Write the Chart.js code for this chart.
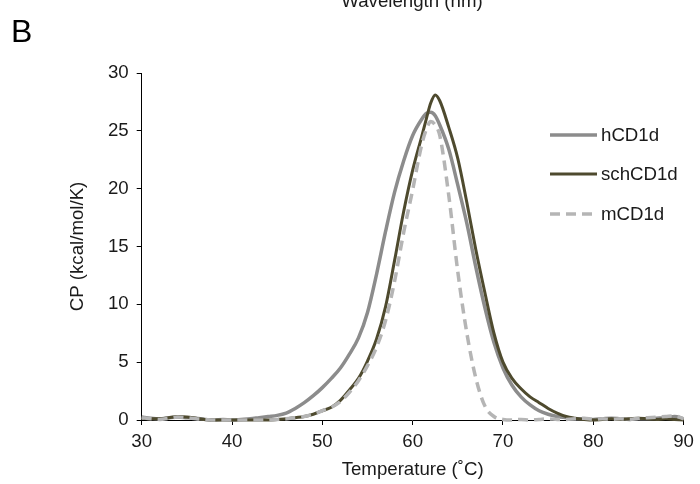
<!DOCTYPE html>
<html>
<head>
<meta charset="utf-8">
<script src="https://cdn.jsdelivr.net/npm/chart.js@4/dist/chart.umd.min.js"></script>
<style>
html,body{margin:0;padding:0;background:#fff;}
#wrap{width:700px;height:484px;position:relative;}
canvas{display:block;}
</style>
</head>
<body>
<div id="wrap"><canvas id="c" width="700" height="484"></canvas></div>
<script>
// ---- data ----
const temps = [30,31,32,33,34,35,36,37,38,39,40,41,42,43,44,45,46,47,48,49,50,51,52,53,54,55,56,57,58,59,60,61,61.5,62,62.5,63,64,65,66,67,68,69,70,71,72,73,74,75,76,77,78,79,80,81,82,83,84,85,86,87,88,89,90];
const hCD1d = [0.25,0.15,0.1,0.2,0.25,0.2,0.15,0.05,0.0,0.05,0.0,0.05,0.1,0.2,0.3,0.4,0.6,1.0,1.5,2.1,2.8,3.6,4.5,5.7,7.1,9.3,12.6,16.3,19.7,22.4,24.6,26.0,26.5,26.6,26.3,25.5,23.4,20.3,17.0,13.2,9.7,6.7,4.5,3.0,2.0,1.3,0.8,0.5,0.3,0.2,0.1,0.1,0.05,0.1,0.15,0.1,0.05,0.1,0.1,0.15,0.2,0.3,0.1];
const schCD1d = [0.15,0.1,0.1,0.2,0.3,0.25,0.15,0.05,0.0,0.0,0.0,0.0,0.0,0.0,0.0,0.05,0.1,0.2,0.3,0.5,0.8,1.1,1.7,2.6,3.6,5.1,7.0,9.8,13.8,18.0,21.6,24.5,26.0,27.4,28.1,27.6,25.3,22.6,18.8,14.7,11.0,7.5,5.0,3.6,2.7,2.0,1.5,1.0,0.6,0.3,0.15,0.05,0.0,0.05,0.1,0.05,0.1,0.15,0.1,0.05,0.1,0.05,0.0];
const mCD1d = [0.2,0.1,0.05,0.15,0.25,0.2,0.1,0.05,0.0,0.0,0.0,0.0,0.0,0.0,0.0,0.05,0.1,0.2,0.3,0.5,0.8,1.1,1.6,2.4,3.4,4.7,6.3,8.6,12.0,16.2,19.9,23.8,25.1,25.8,25.5,24.6,19.4,12.8,7.5,3.6,1.2,0.3,0.05,0.0,0.05,0.0,0.05,0.1,0.05,0.05,0.1,0.15,0.05,0.1,0.05,0.1,0.05,0.15,0.2,0.25,0.3,0.35,0.1];
const seriesNames = ['hCD1d','schCD1d','mCD1d'];
const xTicks = [30,40,50,60,70,80,90];
const yTicks = [0,5,10,15,20,25,30];
const xTitle = 'Temperature (\u02DAC)';
const yTitle = 'CP (kcal/mol/K)';
const panelLabel = 'B';
const topCutText = 'Wavelength (nm)';

const FONT = '"Liberation Sans", Arial, Helvetica, sans-serif';
const FS = 18.67;
const toXY = vals => temps.map((t,i)=>({x:t,y:vals[i]}));

const styles = [
  {color:'#8c8c8c', width:3.5, dash:[], order:2},
  {color:'#4e4a2e', width:3, dash:[], order:1},
  {color:'#b5b5b5', width:3.5, dash:[10,6], order:0}
];
const seriesVals = [hCD1d, schCD1d, mCD1d];

const datasets = seriesNames.map((n,i)=>({
  label:n,
  data:toXY(seriesVals[i]),
  borderColor:styles[i].color,
  borderWidth:styles[i].width,
  borderDash:styles[i].dash,
  pointRadius:0,
  fill:false,
  tension:0.4,
  cubicInterpolationMode:'monotone',
  clip:false,
  order:styles[i].order
}));

const extras = {
  id:'extras',
  afterDraw(chart){
    const ctx = chart.ctx;
    ctx.save();
    // panel label
    ctx.fillStyle = '#000';
    ctx.font = '32px ' + FONT;
    ctx.textBaseline = 'alphabetic';
    ctx.textAlign = 'left';
    ctx.fillText(panelLabel, 11, 42);
    // cut text from previous panel
    ctx.font = FS + 'px ' + FONT;
    ctx.textAlign = 'center';
    ctx.fillStyle = '#1a1a1a';
    ctx.fillText(topCutText, 412, 7);
    // legend
    const lx0 = 550, lx1 = 597, tx = 601;
    const ys = [135, 174, 214];
    chart.data.datasets.forEach((d,i)=>{
      ctx.beginPath();
      ctx.strokeStyle = d.borderColor;
      ctx.lineWidth = d.borderWidth;
      ctx.setLineDash(d.borderDash || []);
      ctx.moveTo(lx0, ys[i]);
      ctx.lineTo(lx1, ys[i]);
      ctx.stroke();
      ctx.setLineDash([]);
      ctx.fillStyle = '#1a1a1a';
      ctx.font = FS + 'px ' + FONT;
      ctx.textAlign = 'left';
      ctx.textBaseline = 'middle';
      ctx.fillText(d.label, tx, ys[i]+1);
    });
    ctx.restore();
  }
};

new Chart(document.getElementById('c'), {
  type:'line',
  data:{datasets},
  options:{
    responsive:false,
    animation:false,
    devicePixelRatio:1,
    layout:{padding:{left:0,top:73,right:12.5,bottom:0}},
    plugins:{legend:{display:false},tooltip:{enabled:false}},
    scales:{
      x:{
        type:'linear',
        min:30,max:90,
        afterBuildTicks: s => { s.ticks = xTicks.map(v=>({value:v})); },
        afterFit: s => { s.height = 64; },
        grid:{display:true,drawOnChartArea:false,drawTicks:true,tickLength:5,color:'#000',lineWidth:1},
        border:{display:true,color:'#000',width:1},
        ticks:{color:'#1a1a1a',font:{family:FONT,size:FS},padding:6,maxRotation:0},
        title:{display:true,text:xTitle,color:'#1a1a1a',font:{family:FONT,size:FS},padding:{top:0,bottom:3.3}}
      },
      y:{
        type:'linear',
        min:0,max:30,
        afterBuildTicks: s => { s.ticks = yTicks.map(v=>({value:v})); },
        afterFit: s => { s.width = 141.7; },
        grid:{display:true,drawOnChartArea:false,drawTicks:true,tickLength:5,color:'#000',lineWidth:1},
        border:{display:true,color:'#000',width:1},
        ticks:{color:'#1a1a1a',font:{family:FONT,size:FS},padding:8},
        title:{display:true,text:yTitle,color:'#1a1a1a',font:{family:FONT,size:FS},padding:{top:66.8,bottom:0}}
      }
    }
  },
  plugins:[extras]
});
</script>
</body>
</html>
